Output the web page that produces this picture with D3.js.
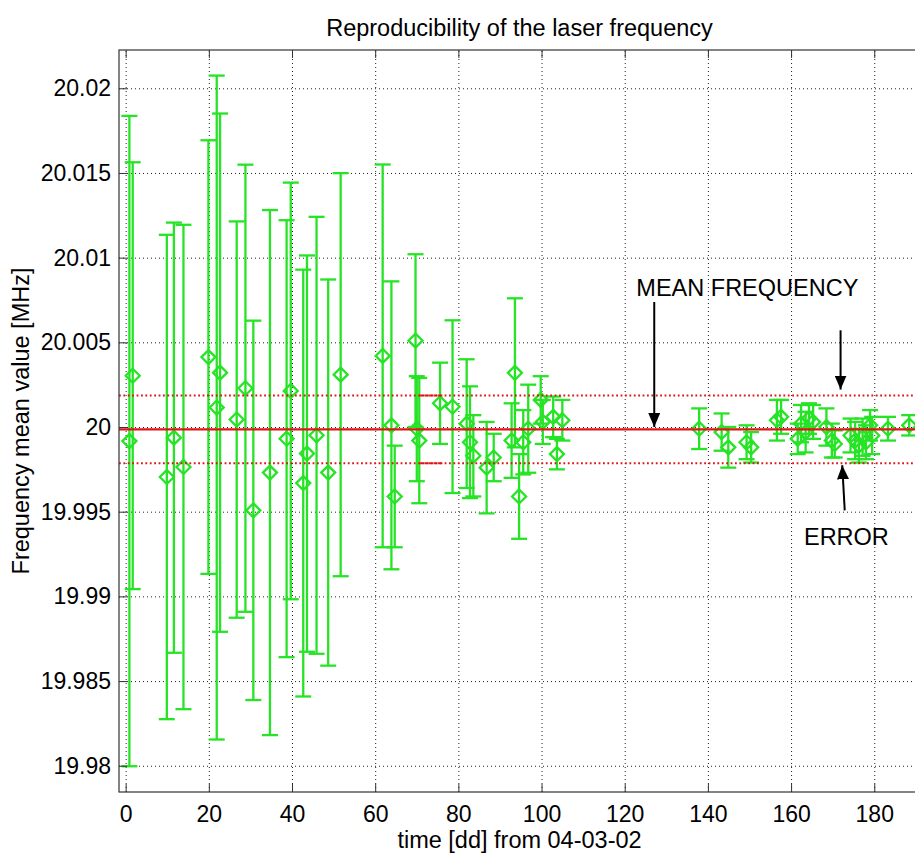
<!DOCTYPE html>
<html>
<head>
<meta charset="utf-8">
<script src="https://cdn.jsdelivr.net/npm/d3@7"></script>
<style>
  body { margin: 0; background: #fff; }
  svg { display: block; font-family: Arial, "Liberation Sans", Helvetica, sans-serif; }
</style>
</head>
<body>
<div id="chart"></div>
<script>
// measurement days since 04-03-02
var days = [0.9, 1.7, 9.9, 11.6, 13.9, 19.9, 21.9, 22.7, 26.7, 28.8, 30.7, 34.7, 38.7, 39.7, 42.7, 43.6, 45.9, 48.7, 51.7,
  61.8, 63.9, 64.7, 69.7, 70.0, 70.6, 75.6, 78.6, 82.0, 82.8, 83.6, 86.8, 88.5, 92.8, 93.6, 94.6, 95.6, 96.8,
  99.8, 100.3, 102.8, 103.7, 105.0,
  137.9, 143.3, 144.9, 149.3, 150.4, 156.6, 157.6, 161.6, 162.4, 163.5, 164.3, 165.3, 168.5, 169.8, 170.5,
  174.3, 175.4, 176.3, 177.2, 178.0, 179.0, 179.5, 183.3, 188.4];

// frequency mean value [MHz]
var freq = [19.99917, 20.00303, 19.99705, 19.99937, 19.99764, 20.00413, 20.00115, 20.00321, 20.00044, 20.00229, 19.99508, 19.99731, 19.99931, 20.00213, 19.99669, 19.99843, 19.99951, 19.99731, 20.00309,
  20.0042, 20.0001, 19.9959, 20.0051, 19.9999, 19.9992, 20.0014, 20.0012, 20.0002, 19.9991, 19.9983, 19.9976, 19.9982, 19.9992, 20.0032, 19.9959, 19.9991, 19.9999,
  20.0016, 20.0003, 20.0006, 19.9984, 20.0004,
  19.9999, 19.9997, 19.9988, 19.9991, 19.9988, 20.0004, 20.0006, 19.9993, 20.0002, 19.9997, 20.0005, 20.0003, 20.0000, 19.9992, 19.9990,
  19.9995, 19.9992, 19.9989, 19.9994, 19.9991, 20.0001, 19.9995, 19.9999, 20.0001];

// error (half length of the bars)
var errs = [0.0192, 0.0126, 0.0143, 0.0127, 0.0143, 0.0128, 0.0196, 0.0153, 0.0117, 0.0132, 0.0112, 0.0155, 0.0129, 0.0123, 0.0126, 0.0117, 0.0129, 0.0114, 0.0119,
  0.0113, 0.0085, 0.0030, 0.0051, 0.0031, 0.0037, 0.0024, 0.0051, 0.0038, 0.0033, 0.0024, 0.0027, 0.0014, 0.0022, 0.0044, 0.0025, 0.0019, 0.0026,
  0.0014, 0.0013, 0.0012, 0.0009, 0.0012,
  0.0012, 0.0011, 0.0012, 0.0010, 0.0009, 0.0012, 0.0010, 0.0009, 0.0011, 0.0012, 0.0009, 0.0010, 0.0011, 0.0010, 0.0008,
  0.0010, 0.0011, 0.0010, 0.0011, 0.0010, 0.0009, 0.0011, 0.0007, 0.0006];

var meanFreq = 19.99986;
var meanErr = 0.002;
var denseRange = [70.8, 76.3];

var xTicks = [0, 20, 40, 60, 80, 100, 120, 140, 160, 180];
var yTicks = [19.98, 19.985, 19.99, 19.995, 20, 20.005, 20.01, 20.015, 20.02];
var yTickLabels = ["19.98", "19.985", "19.99", "19.995", "20", "20.005", "20.01", "20.015", "20.02"];

var svgWidth = 915, svgHeight = 854;
var plotLeft = 119, plotTop = 50, plotRight = 920, plotBottom = 792;
var width = plotRight - plotLeft, height = plotBottom - plotTop;
var green = "#26e326", red = "#e01414";

var data = days.map(function(d, i) { return {t: d, v: freq[i], e: errs[i]}; });

var svg = d3.select("#chart").append("svg")
  .attr("width", svgWidth)
  .attr("height", svgHeight);

svg.append("rect").attr("width", svgWidth).attr("height", svgHeight).attr("fill", "#fff");

var x = d3.scaleLinear().domain([-1.6, 191]).range([plotLeft, plotRight]);
var y = d3.scaleLinear().domain([19.97845, 20.02226]).range([plotBottom, plotTop]);

// grid
svg.append("g")
  .attr("transform", `translate(0, ${plotBottom})`)
  .call(d3.axisBottom(x).tickValues(xTicks).tickSize(-height).tickFormat(""))
  .call(g => g.select(".domain").remove())
  .selectAll("line").attr("stroke", "#222").attr("stroke-dasharray", "1,3");

svg.append("g")
  .attr("transform", `translate(${plotLeft}, 0)`)
  .call(d3.axisLeft(y).tickValues(yTicks).tickSize(-width).tickFormat(""))
  .call(g => g.select(".domain").remove())
  .selectAll("line").attr("stroke", "#222").attr("stroke-dasharray", "1,3");

// error bars
var bars = svg.append("g").attr("stroke", green).attr("stroke-width", 2.3).attr("fill", "none");
var pts = bars.selectAll("g").data(data).enter().append("g");
pts.append("line")
  .attr("x1", d => x(d.t)).attr("x2", d => x(d.t))
  .attr("y1", d => y(d.v - d.e)).attr("y2", d => y(d.v + d.e));
pts.append("line")
  .attr("x1", d => x(d.t) - 8).attr("x2", d => x(d.t) + 8)
  .attr("y1", d => y(d.v + d.e)).attr("y2", d => y(d.v + d.e));
pts.append("line")
  .attr("x1", d => x(d.t) - 8).attr("x2", d => x(d.t) + 8)
  .attr("y1", d => y(d.v - d.e)).attr("y2", d => y(d.v - d.e));
pts.append("path")
  .attr("transform", d => `translate(${x(d.t)}, ${y(d.v)})`)
  .attr("d", "M0,-7L7,0L0,7L-7,0Z");

// mean frequency and error band
svg.append("line")
  .attr("x1", x.range()[0]).attr("x2", x.range()[1])
  .attr("y1", y(meanFreq)).attr("y2", y(meanFreq))
  .attr("stroke", red).attr("stroke-width", 2.3);

[meanFreq + meanErr, meanFreq - meanErr].forEach(function(v) {
  svg.append("line")
    .attr("x1", x.range()[0]).attr("x2", x.range()[1])
    .attr("y1", y(v)).attr("y2", y(v))
    .attr("stroke", red).attr("stroke-width", 1.8).attr("stroke-dasharray", "1.8,2.6");
  svg.append("line")
    .attr("x1", x(denseRange[0])).attr("x2", x(denseRange[1]))
    .attr("y1", y(v)).attr("y2", y(v))
    .attr("stroke", red).attr("stroke-width", 1.8).attr("stroke-dasharray", "3,1.5");
});

// axes box with inward ticks
var axisColor = "#333";
svg.append("g")
  .attr("transform", `translate(0, ${plotBottom})`)
  .call(d3.axisBottom(x).tickValues(xTicks).tickSize(-8).tickPadding(14))
  .call(g => g.select(".domain").remove())
  .call(g => g.selectAll("line").attr("stroke", axisColor))
  .call(g => g.selectAll("text").attr("font-size", 23).attr("fill", "#000").attr("font-family", null));

svg.append("g")
  .attr("transform", `translate(0, ${plotTop})`)
  .call(d3.axisTop(x).tickValues(xTicks).tickSize(-8).tickFormat(""))
  .call(g => g.select(".domain").remove())
  .call(g => g.selectAll("line").attr("stroke", axisColor));

svg.append("g")
  .attr("transform", `translate(${plotLeft}, 0)`)
  .call(d3.axisLeft(y).tickValues(yTicks).tickSize(-8).tickPadding(8)
    .tickFormat((d, i) => yTickLabels[i]))
  .call(g => g.select(".domain").remove())
  .call(g => g.selectAll("line").attr("stroke", axisColor))
  .call(g => g.selectAll("text").attr("font-size", 23).attr("fill", "#000").attr("font-family", null));

svg.append("rect")
  .attr("x", plotLeft).attr("y", plotTop).attr("width", width).attr("height", height)
  .attr("fill", "none").attr("stroke", axisColor).attr("stroke-width", 1.2);

// labels
svg.append("text")
  .attr("x", (plotLeft + plotRight) / 2).attr("y", 36)
  .attr("text-anchor", "middle").attr("font-size", 23.5)
  .text("Reproducibility of the laser frequency");

svg.append("text")
  .attr("x", (plotLeft + plotRight) / 2).attr("y", 848)
  .attr("text-anchor", "middle").attr("font-size", 23.5)
  .text("time [dd] from 04-03-02");

svg.append("text")
  .attr("transform", `translate(29, ${(plotTop + plotBottom) / 2}) rotate(-90)`)
  .attr("text-anchor", "middle").attr("font-size", 23.5)
  .text("Frequency mean value [MHz]");

// annotations
svg.append("defs").append("marker")
  .attr("id", "head")
  .attr("viewBox", "0 0 14 12")
  .attr("refX", 14).attr("refY", 6)
  .attr("markerWidth", 14).attr("markerHeight", 12)
  .attr("markerUnits", "userSpaceOnUse")
  .attr("orient", "auto")
  .append("path").attr("d", "M0,0L14,6L0,12Z").attr("fill", "#000");

var arrows = [
  {x1: 127.1, y1: 20.00738, x2: 127.1, y2: 20.0},
  {x1: 171.9, y1: 20.00571, x2: 171.9, y2: 20.00221},
  {x1: 172.9, y1: 19.99508, x2: 172.3, y2: 19.99774}
];
svg.append("g").selectAll("line").data(arrows).enter().append("line")
  .attr("x1", d => x(d.x1)).attr("y1", d => y(d.y1))
  .attr("x2", d => x(d.x2)).attr("y2", d => y(d.y2))
  .attr("stroke", "#000").attr("stroke-width", 2)
  .attr("marker-end", "url(#head)");

svg.append("text")
  .attr("x", x(122.8)).attr("y", y(20.00772))
  .attr("font-size", 23.5)
  .text("MEAN FREQUENCY");

svg.append("text")
  .attr("x", x(163.1)).attr("y", y(19.99301))
  .attr("font-size", 23.5)
  .text("ERROR");
</script>
</body>
</html>
